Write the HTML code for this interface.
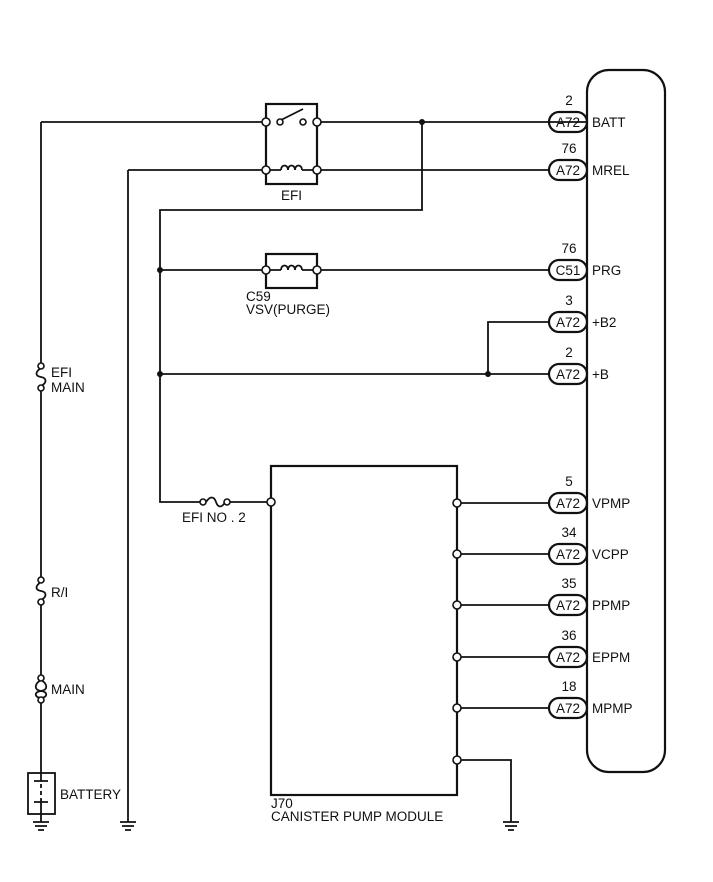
<!DOCTYPE html>
<html><head><meta charset="utf-8"><style>
html,body{margin:0;padding:0;background:#fff;width:713px;height:882px;overflow:hidden}
svg{display:block}
text{font-family:"Liberation Sans",Arial,sans-serif;fill:#111}
</style></head><body>
<svg width="713" height="882" viewBox="0 0 713 882" xmlns="http://www.w3.org/2000/svg">
<g stroke="#111" stroke-width="1.8" fill="none">
<rect x="587" y="70" width="78" height="702" rx="22" stroke-width="2.2"/>
<path d="M41 122 H266"/>
<path d="M41 122 V365 M41 389 V579 M41 603 V677 M41 701 V773"/>
<path d="M41 368 C35 372 35 376 41 377 C47 378 47 383 41 386"/>
<path d="M41 582 C35 586 35 590 41 591 C47 592 47 597 41 600"/>
<path d="M41 680 C34 684 34 690 41 691 C48 692 48 697 41 698 M41 680 C48 684 48 690 41 691 C34 692 34 697 41 698"/>
<rect x="28" y="773" width="27" height="41"/>
<path d="M41 773 V781 M34 781 H48 M41 784 V788 M41 791 V795 M41 798 V802 M34 802 H48 M41 802 V822"/>
<path d="M33 822 H49 M35 826 H47 M38 830 H44"/>
<path d="M128 170 H266 M128 170 V822"/>
<path d="M120 822 H136 M122 826 H134 M125 830 H131"/>
<rect x="266" y="104" width="51" height="80" stroke-width="2.2"/>
<path d="M317 122 H587 M317 170 H550"/>
<path d="M281 120 L303 109"/>
<path d="M270 170 H281 M302 170 H313"/>
<path d="M281 170 c0 -6 7 -6 7 0 c0 -6 7 -6 7 0 c0 -6 7 -6 7 0" />
<path d="M422 122 V210 H160 V502 H202 M228 502 H271"/>
<path d="M160 270 H266 M317 270 H550"/>
<path d="M160 374 H550 M488 374 V322 H550"/>
<path d="M206 502 C210 496 214 496 216 502 C218 508 222 508 225 502"/>
<rect x="266" y="254" width="51" height="34" stroke-width="2.2"/>
<path d="M270 270 H281 M302 270 H313"/>
<path d="M281 270 c0 -6 7 -6 7 0 c0 -6 7 -6 7 0 c0 -6 7 -6 7 0" />
<rect x="271" y="466" width="186" height="329" stroke-width="2.2"/>
<path d="M457 503 H550 M457 554 H550 M457 605 H550 M457 657 H550 M457 708 H550"/>
<path d="M457 760 H511 V822 M503 822 H519 M505 826 H517 M508 830 H514"/>
<g stroke-width="2.2">
<rect x="549" y="112" width="38" height="20" rx="10"/>
<rect x="549" y="160" width="38" height="20" rx="10"/>
<rect x="549" y="260" width="38" height="20" rx="10"/>
<rect x="549" y="312" width="38" height="20" rx="10"/>
<rect x="549" y="364" width="38" height="20" rx="10"/>
<rect x="549" y="493" width="38" height="20" rx="10"/>
<rect x="549" y="544" width="38" height="20" rx="10"/>
<rect x="549" y="595" width="38" height="20" rx="10"/>
<rect x="549" y="647" width="38" height="20" rx="10"/>
<rect x="549" y="698" width="38" height="20" rx="10"/>
</g>
</g>
<g stroke="#111" stroke-width="1.6" fill="#fff">
<circle cx="266" cy="122" r="4"/><circle cx="317" cy="122" r="4"/>
<circle cx="280" cy="122" r="3"/><circle cx="303" cy="122" r="3"/>
<circle cx="266" cy="170" r="4"/><circle cx="317" cy="170" r="4"/>
<circle cx="266" cy="270" r="4"/><circle cx="317" cy="270" r="4"/>
<circle cx="41" cy="366" r="3"/><circle cx="41" cy="388" r="3"/>
<circle cx="41" cy="580" r="3"/><circle cx="41" cy="602" r="3"/>
<circle cx="41" cy="678" r="3"/><circle cx="41" cy="700" r="3"/>
<circle cx="203" cy="502" r="3"/><circle cx="227" cy="502" r="3"/>
<circle cx="271" cy="502" r="4"/>
<circle cx="457" cy="503" r="4"/><circle cx="457" cy="554" r="4"/>
<circle cx="457" cy="605" r="4"/><circle cx="457" cy="657" r="4"/>
<circle cx="457" cy="708" r="4"/><circle cx="457" cy="760" r="4"/>
</g>
<g fill="#111">
<circle cx="422" cy="122" r="3"/><circle cx="160" cy="270" r="3"/>
<circle cx="160" cy="374" r="3"/><circle cx="488" cy="374" r="3"/>
</g>
<g font-size="13.5">
<text x="281" y="200">EFI</text>
<text x="246" y="301">C59</text>
<text x="246" y="314">VSV(PURGE)</text>
<text x="51" y="377">EFI</text>
<text x="51" y="392">MAIN</text>
<text x="51" y="597">R/I</text>
<text x="51" y="694">MAIN</text>
<text x="60" y="799">BATTERY</text>
<text x="182" y="522">EFI NO . 2</text>
<text x="271" y="808">J70</text>
<text x="271" y="821">CANISTER PUMP MODULE</text>
<g text-anchor="middle">
<text x="568" y="127">A72</text><text x="568" y="175">A72</text>
<text x="568" y="275">C51</text><text x="568" y="327">A72</text>
<text x="568" y="379">A72</text><text x="568" y="508">A72</text>
<text x="568" y="559">A72</text><text x="568" y="610">A72</text>
<text x="568" y="662">A72</text><text x="568" y="713">A72</text>
<text x="569" y="105">2</text><text x="569" y="153">76</text>
<text x="569" y="253">76</text><text x="569" y="305">3</text>
<text x="569" y="357">2</text><text x="569" y="486">5</text>
<text x="569" y="537">34</text><text x="569" y="588">35</text>
<text x="569" y="640">36</text><text x="569" y="691">18</text>
</g>
<text x="592" y="127">BATT</text><text x="592" y="175">MREL</text>
<text x="592" y="275">PRG</text><text x="592" y="327">+B2</text>
<text x="592" y="379">+B</text><text x="592" y="508">VPMP</text>
<text x="592" y="559">VCPP</text><text x="592" y="610">PPMP</text>
<text x="592" y="662">EPPM</text><text x="592" y="713">MPMP</text>
</g>
</svg>
</body></html>
